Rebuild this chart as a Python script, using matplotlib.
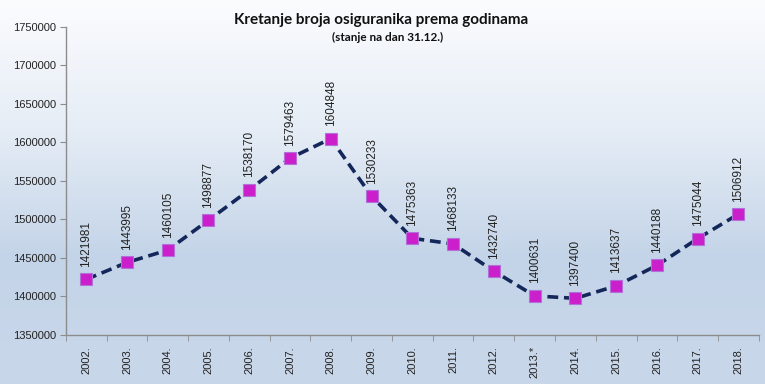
import numpy as np
import matplotlib.pyplot as plt
from matplotlib.colors import LinearSegmentedColormap

years = ["2002.", "2003.", "2004.", "2005.", "2006.", "2007.", "2008.", "2009.", "2010.",
         "2011.", "2012.", "2013.*", "2014.", "2015.", "2016.", "2017.", "2018."]
insured = [1421981, 1443995, 1460105, 1498877, 1538170, 1579463, 1604848, 1530233, 1475363,
           1468133, 1432740, 1400631, 1397400, 1413637, 1440188, 1475044, 1506912]

fig = plt.figure(figsize=(7.65, 3.84), dpi=100)

# gradient background over the whole figure
bg = fig.add_axes([0, 0, 1, 1], zorder=-10)
cmap = LinearSegmentedColormap.from_list("bg", ["#fbfcfe", "#e6edf6", "#c4d4e8", "#c9d7ea"])
grad = np.linspace(0, 1, 256).reshape(-1, 1)
bg.imshow(grad, aspect="auto", cmap=cmap, extent=[0, 1, 0, 1], origin="upper")
bg.axis("off")

ax = fig.add_axes([0.086, 0.128, 0.906, 0.802])
ax.patch.set_alpha(0)

x = np.arange(len(years))
ax.plot(x, insured, color="#14275a", linestyle=(0, (3, 1.6)), linewidth=2.6, zorder=2)
ax.plot(x, insured, linestyle="none", marker="s", markersize=8,
        markerfacecolor="#cc1fcc", markeredgecolor="#b070d8", markeredgewidth=0.8, zorder=3)

for xi, v in zip(x, insured):
    ax.annotate(str(v), (xi, v), xytext=(0, 9), textcoords="offset points",
                rotation=90, ha="center", va="bottom", fontsize=8.5,
                family="Liberation Sans", color="#222222")

ax.set_xlim(-0.5, len(years) - 0.5)
ax.set_ylim(1350000, 1750000)
ax.set_yticks(np.arange(1350000, 1750001, 50000))
ax.set_yticklabels([str(v) for v in range(1350000, 1750001, 50000)],
                   family="Liberation Sans", fontsize=8, color="#222222")
ax.set_xticks(x)
ax.set_xticklabels(years, rotation=90, family="Liberation Sans", fontsize=8, color="#222222")
ax.set_xticks(np.arange(-0.5, len(years)), minor=True)
ax.tick_params(axis="x", which="major", length=0, pad=8)
ax.tick_params(axis="x", which="minor", length=4, color="#8c8c8c", direction="out")
ax.tick_params(axis="y", length=4, color="#8c8c8c", direction="out", pad=3)

for s in ["top", "right"]:
    ax.spines[s].set_visible(False)
for s in ["left", "bottom"]:
    ax.spines[s].set_color("#8c8c8c")
    ax.spines[s].set_linewidth(1.0)

fig.text(0.498, 0.947, "Kretanje broja osiguranika prema godinama", ha="center", va="center",
         fontsize=11, fontweight="bold", family="Lato", color="#111111")
fig.text(0.507, 0.903, "(stanje na dan 31.12.)", ha="center", va="center",
         fontsize=8.5, fontweight="bold", family="Lato", color="#111111")

fig.savefig("out.png", dpi=100)
